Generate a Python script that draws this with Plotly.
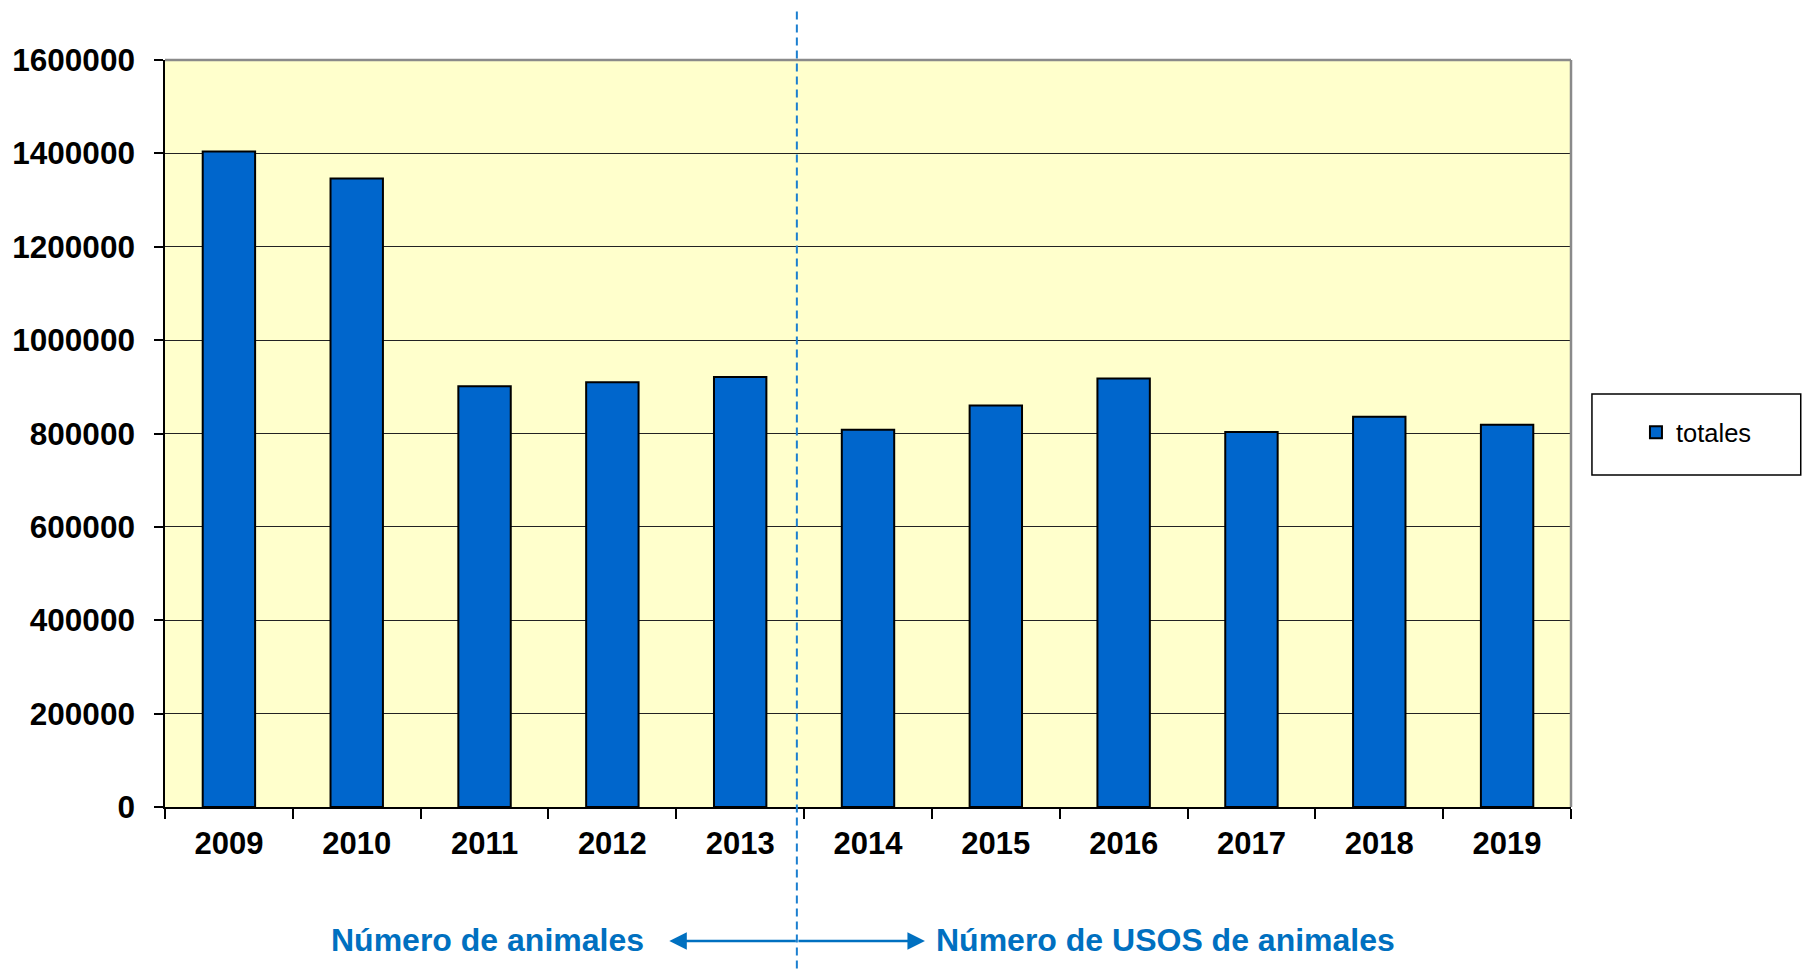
import plotly.graph_objects as go

years = ["2009", "2010", "2011", "2012", "2013", "2014", "2015", "2016", "2017", "2018", "2019"]
totales = [1404000, 1346000, 901000, 910000, 921000, 808000, 860000, 918000, 803000, 836000, 819000]
series_name = "totales"
y_ticks = [0, 200000, 400000, 600000, 800000, 1000000, 1200000, 1400000, 1600000]
label_left = "Número de animales"
label_right = "Número de USOS de animales"

FONT = "Liberation Sans, Arial, sans-serif"
BLUE_TXT = "#0070C0"

fig = go.Figure()
fig.add_trace(go.Bar(
    x=years, y=totales, name=series_name,
    marker=dict(color="#0066CC", line=dict(color="#000000", width=2)),
    showlegend=True,
))

fig.update_layout(
    width=1806, height=977,
    margin=dict(l=163, r=235, t=60, b=170),
    paper_bgcolor="white",
    plot_bgcolor="#FFFFCC",
    bargap=0.59,
    font=dict(family=FONT, color="black"),
    showlegend=True,
    legend=dict(
        x=1.0462, xanchor="left", y=0.501, yanchor="middle",
        font=dict(size=25.5, family=FONT, color="black"),
        bgcolor="rgba(0,0,0,0)", borderwidth=0,
    ),
    xaxis=dict(
        type="category",
        tickfont=dict(size=31, family=FONT, color="black", weight="bold"),
        showline=True, linecolor="black", linewidth=1.5,
        ticks="outside", ticklen=10, tickcolor="black", tickwidth=1.5,
        tickson="boundaries", showgrid=False,
        ticklabelstandoff=8,
    ),
    yaxis=dict(
        range=[0, 1600000], tickvals=y_ticks, tickformat="d",
        tickfont=dict(size=31.5, family=FONT, color="black", weight="bold"),
        showline=True, linecolor="black", linewidth=1.5,
        ticks="outside", ticklen=9, tickcolor="black", tickwidth=1.5,
        showgrid=True, gridcolor="#222222", gridwidth=1.2,
        zeroline=False, ticklabelstandoff=13,
    ),
)

shapes = [
    # plot-area top and right border
    dict(type="line", xref="paper", yref="paper", x0=0, x1=1, y0=1, y1=1,
         line=dict(color="#8a8a8a", width=2.5), layer="above"),
    dict(type="line", xref="paper", yref="paper", x0=1, x1=1, y0=0, y1=1,
         line=dict(color="#8a8a8a", width=2.5), layer="above"),
    # dashed separator
    dict(type="line", xref="paper", yref="paper", x0=0.4494, x1=0.4494, y0=1.065, y1=-0.2195,
         line=dict(color="#1B7FD0", width=2, dash="8px,5px"), layer="above"),
    # legend box
    dict(type="rect", xref="paper", yref="paper", x0=1.0149, x1=1.1634, y0=0.4444, y1=0.5529,
         line=dict(color="black", width=1.5), fillcolor="rgba(0,0,0,0)", layer="above"),
]
fig.update_layout(shapes=shapes)

annotations = [
    dict(text=label_left, xref="paper", yref="paper", x=0.2294, y=-0.178,
         showarrow=False, xanchor="center", yanchor="middle",
         font=dict(size=32, family=FONT, color=BLUE_TXT, weight="bold")),
    dict(text=label_right, xref="paper", yref="paper", x=0.7113, y=-0.178,
         showarrow=False, xanchor="center", yanchor="middle",
         font=dict(size=32, family=FONT, color=BLUE_TXT, weight="bold")),
    dict(text="", xref="paper", yref="paper", x=0.3587, y=-0.1795, ax=128, ay=0,
         showarrow=True, arrowhead=2, arrowsize=1.4, arrowwidth=2.5, arrowcolor=BLUE_TXT,
         standoff=0, startstandoff=0),
    dict(text="", xref="paper", yref="paper", x=0.5405, y=-0.1795, ax=-128, ay=0,
         showarrow=True, arrowhead=2, arrowsize=1.4, arrowwidth=2.5, arrowcolor=BLUE_TXT,
         standoff=0, startstandoff=0),
]
fig.update_layout(annotations=annotations)

fig.write_html("out.html", config={"displayModeBar": False},
               post_script="document.body.style.margin='0';document.body.style.overflow='hidden';")
